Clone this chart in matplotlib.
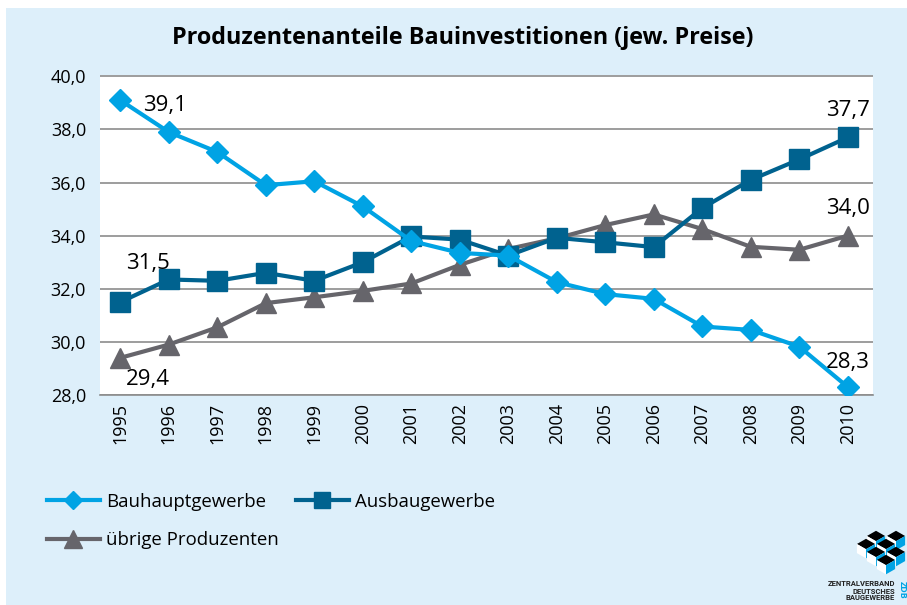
import matplotlib
matplotlib.use("Agg")
import matplotlib.pyplot as plt
from matplotlib.patches import Rectangle, Polygon

years = ["1995", "1996", "1997", "1998", "1999", "2000", "2001", "2002",
         "2003", "2004", "2005", "2006", "2007", "2008", "2009", "2010"]
bauhaupt = [39.1, 37.9, 37.15, 35.9, 36.05, 35.1, 33.8, 33.35,
            33.25, 32.25, 31.8, 31.62, 30.58, 30.45, 29.82, 28.3]
ausbau = [31.5, 32.35, 32.3, 32.6, 32.3, 33.0, 33.97, 33.85,
          33.25, 33.92, 33.75, 33.57, 35.04, 36.1, 36.87, 37.7]
uebrige = [29.4, 29.9, 30.55, 31.46, 31.68, 31.92, 32.2, 32.9,
           33.5, 33.9, 34.4, 34.8, 34.25, 33.58, 33.47, 34.0]
yticks = [28, 30, 32, 34, 36, 38, 40]
ytick_labels = ["28,0", "30,0", "32,0", "34,0", "36,0", "38,0", "40,0"]

plt.rcParams['font.family'] = ['Open Sans', 'DejaVu Sans']

fig = plt.figure(figsize=(9.07, 6.05), dpi=100)
fig.patch.set_facecolor("white")
fig.patches.append(Rectangle((6/907, 0), 1 - 6/907, 1 - 8/605, transform=fig.transFigure,
                             facecolor="#DDEFFA", edgecolor="none", zorder=-10))

ax = fig.add_axes([100/907, 1 - 395/605, 773/907, 320/605])
ax.set_facecolor("white")
x = list(range(len(years)))

c1, c2, c3 = "#00A3E4", "#00628F", "#66656B"
h1, = ax.plot(x, bauhaupt, color=c1, lw=3, marker="D", ms=11, label="Bauhauptgewerbe", zorder=4)
h2, = ax.plot(x, ausbau, color=c2, lw=3, marker="s", ms=14, label="Ausbaugewerbe", zorder=3)
h3, = ax.plot(x, uebrige, color=c3, lw=3, marker="^", ms=15, label="übrige Produzenten", zorder=2)

ax.set_ylim(28, 40.05)
ax.set_xlim(-0.42, 15.52)
ax.set_yticks(yticks)
ax.set_yticklabels(ytick_labels, fontsize=13)
ax.set_xticks(x)
ax.set_xticklabels(years, rotation=90, fontsize=13)
ax.grid(axis="y", color="#8C8C8C", lw=1.2)
ax.set_axisbelow(True)
for s in ["top", "right", "left"]:
    ax.spines[s].set_visible(False)
ax.spines["bottom"].set_color("#8C8C8C")
ax.spines["bottom"].set_linewidth(1.2)
ax.tick_params(axis="y", length=0, pad=10)
ax.tick_params(axis="x", length=0, pad=6)

lab = dict(fontsize=16, color="black")
ax.annotate("39,1", (0, bauhaupt[0]), xytext=(16, -4), textcoords="offset points", ha="left", va="center", **lab)
ax.annotate("31,5", (0, ausbau[0]), xytext=(4, 20), textcoords="offset points", ha="left", va="bottom", **lab)
ax.annotate("29,4", (0, uebrige[0]), xytext=(4, -8), textcoords="offset points", ha="left", va="top", **lab)
ax.annotate("37,7", (15, ausbau[-1]), xytext=(0, 12), textcoords="offset points", ha="center", va="bottom", **lab)
ax.annotate("34,0", (15, uebrige[-1]), xytext=(0, 12), textcoords="offset points", ha="center", va="bottom", **lab)
ax.annotate("28,3", (15, bauhaupt[-1]), xytext=(0, 10), textcoords="offset points", ha="center", va="bottom", **lab)

fig.text(463/907, 1 - 38/605, "Produzentenanteile Bauinvestitionen (jew. Preise)",
         ha="center", va="center", fontsize=16.8, fontweight="bold")

leg = fig.legend(handles=[h1, h3, h2], loc="upper left", bbox_to_anchor=(30/907, 1 - 476/605),
                 ncol=2, frameon=False, fontsize=13.4, handlelength=2.85, columnspacing=0.9,
                 labelspacing=1.1, handletextpad=0.35, markerscale=0.85)

# logo
fig.text(895/907, 1 - 591/605, "ZENTRALVERBAND\nDEUTSCHES\nBAUGEWERBE", ha="right", va="center",
         fontsize=5.5, fontweight="bold", color="#222222", linespacing=1.0, family="Roboto")
fig.text(902/907, 1 - 590/605, "ZDB", ha="center", va="center", rotation=-90,
         fontsize=6.5, fontweight="bold", color="#00A3E4")
s = 1.3
for (cx, cy) in [(876, 536), (896, 536), (886, 544), (866, 544), (876, 552), (896, 552), (886, 560)]:
    def P(pts, fc):
        fig.patches.append(Polygon([(px/907, 1 - py/605) for px, py in pts], closed=True,
                                   transform=fig.transFigure, facecolor=fc, edgecolor="none"))
    P([(cx, cy - 4*s), (cx + 7*s, cy), (cx, cy + 4*s), (cx - 7*s, cy)], "black")
    P([(cx - 7*s, cy), (cx, cy + 4*s), (cx, cy + 11*s), (cx - 7*s, cy + 7*s)], "white")
    P([(cx + 7*s, cy), (cx, cy + 4*s), (cx, cy + 11*s), (cx + 7*s, cy + 7*s)], "#00A3E4")

fig.savefig("out.png", dpi=100, facecolor=fig.get_facecolor())
